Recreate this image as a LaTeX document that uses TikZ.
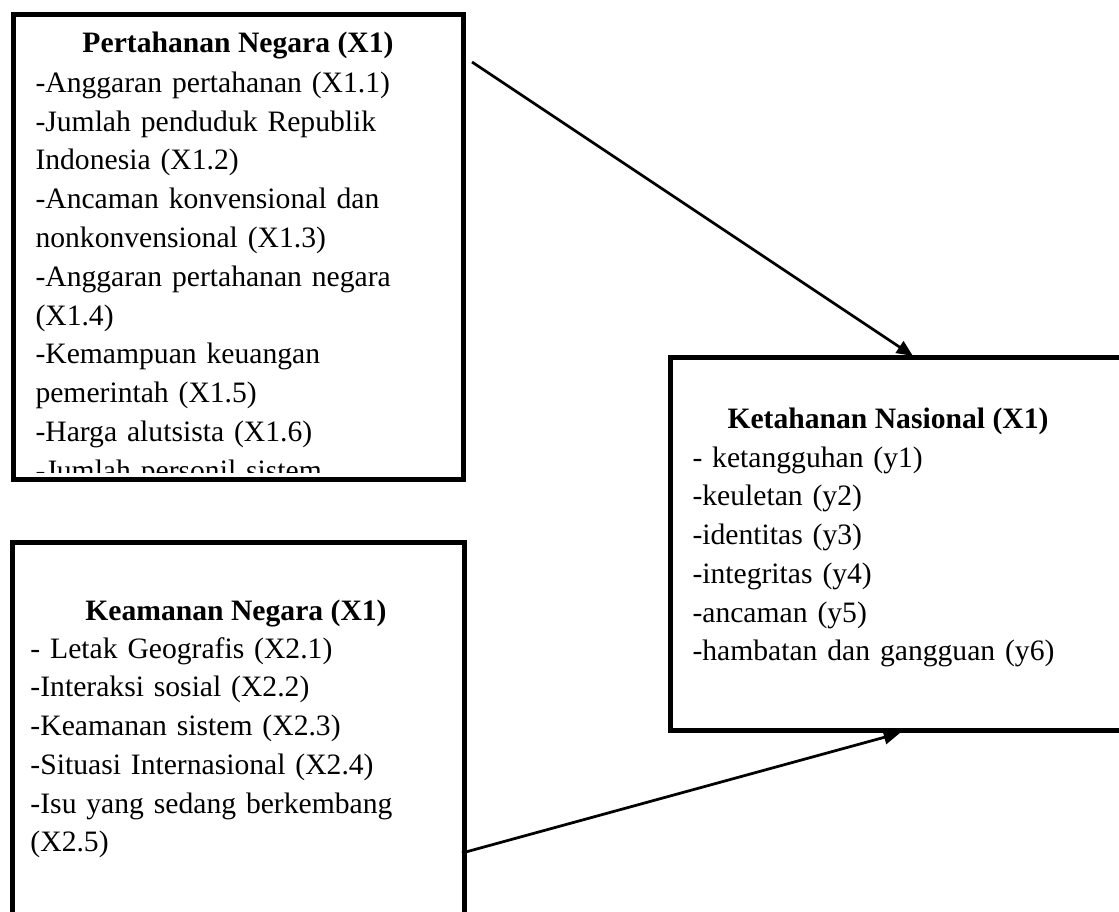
\documentclass[tikz,border=0pt]{standalone}
\usepackage{fontspec}
\setmainfont{Liberation Serif}
\usetikzlibrary{arrows.meta}

\begin{document}
\begin{tikzpicture}[x=0.4pt, y=-0.4pt,
    box/.style={draw, line width=2pt, inner sep=0pt, outer sep=0pt, anchor=north west},
    title/.style={font=\fontsize{11.85pt}{15.5pt}\selectfont\bfseries, inner sep=0pt, anchor=base},
    items/.style={font=\fontsize{11.85pt}{15.5pt}\selectfont, inner sep=0pt, anchor=base west, text width=200pt, align=left},
    link/.style={line width=1.1pt, -{Triangle[length=6.5pt, width=5.5pt]}}]
  \useasboundingbox (0, 0) rectangle (1119, 912);

  % pertahanan negara (text cut at the bottom edge)
  \begin{scope}
    \clip (15.5, 17) rectangle (460.5, 472);
    \node[title] (pertahananT) at (238, 53) {Pertahanan Negara (X1)};
    \node[items] (pertahananL) at (35, 92.5) {-Anggaran pertahanan (X1.1)\\
      -Jumlah penduduk Republik\\
      Indonesia (X1.2)\\
      -Ancaman konvensional dan\\
      nonkonvensional (X1.3)\\
      -Anggaran pertahanan negara\\
      (X1.4)\\
      -Kemampuan keuangan\\
      pemerintah (X1.5)\\
      -Harga alutsista (X1.6)\\
      -Jumlah personil sistem};
  \end{scope}
  \node[box, minimum width=180pt, minimum height=186pt] (pertahanan) at (13, 14.5) {};

  % keamanan negara
  \node[box, minimum width=180.8pt, minimum height=183pt] (keamanan) at (12.5, 542.5) {};
  \node[title] (keamananT) at (236, 620) {Keamanan Negara (X1)};
  \node[items] (keamananL) at (30, 658) {- Letak Geografis (X2.1)\\
    -Interaksi sosial (X2.2)\\
    -Keamanan sistem (X2.3)\\
    -Situasi Internasional (X2.4)\\
    -Isu yang sedang berkembang\\
    (X2.5)};

  % ketahanan nasional
  \node[box, minimum width=192pt, minimum height=149.2pt] (ketahanan) at (670.5, 357.5) {};
  \node[title, anchor=base west] (ketahananT) at (727, 428) {Ketahanan Nasional (X1)};
  \node[items] (ketahananL) at (692, 467) {- ketangguhan (y1)\\
    -keuletan (y2)\\
    -identitas (y3)\\
    -integritas (y4)\\
    -ancaman (y5)\\
    -hambatan dan gangguan (y6)};

  % arrows
  \coordinate (fromP) at (472, 62);
  \coordinate (toK1) at (913, 356);
  \coordinate (fromK) at (462, 853);
  \coordinate (toK2) at (900, 733);
  \draw[link] (fromP) -- (toK1);
  \draw[link] (fromK) -- (toK2);
\end{tikzpicture}
\end{document}
